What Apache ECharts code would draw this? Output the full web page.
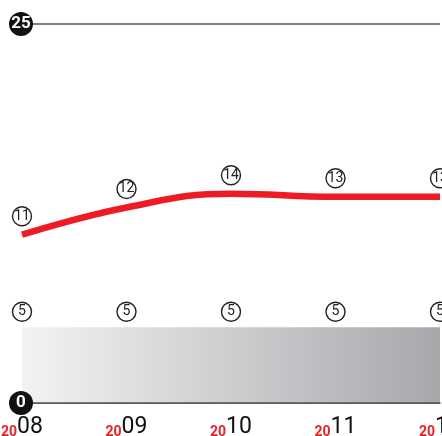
<!DOCTYPE html>
<html><head><meta charset="utf-8">
<script src="https://cdn.jsdelivr.net/npm/echarts@6/dist/echarts.min.js"></script>
<style>html,body{margin:0;padding:0;background:#fff}#c{width:442px;height:436px}</style>
</head><body><div id="c"></div>
<script>
const years = ['2008', '2009', '2010', '2011', '2012'];
// line as drawn in the picture, and the circled values written on it
const lineValues = [11.1, 12.9, 13.8, 13.6, 13.6];
const lineLabels = [11, 12, 14, 13, 13];
const baseValues = [5, 5, 5, 5, 5];
const yTicks = [0, 25];

const fam = 'Roboto, sans-serif';
const circ = {
  c: { width: 17, height: 17, lineHeight: 17, borderRadius: 10, borderWidth: 1.4, borderColor: '#222',
       color: '#222', fontSize: 14, fontFamily: fam, align: 'center', padding: [1, 1, 1, 1] }
};
const hiddenSymbol = { color: 'rgba(0,0,0,0)', borderColor: 'rgba(0,0,0,0)', borderWidth: 0 };
const chart = echarts.init(document.getElementById('c'), null, { renderer: 'canvas' });
chart.setOption({
  animation: false,
  grid: { left: 22, right: 2, top: 24, bottom: 33, containLabel: false, outerBoundsMode: 'none' },
  xAxis: {
    type: 'category', data: years, boundaryGap: false,
    axisLine: { lineStyle: { color: '#444', width: 1.5 } },
    axisTick: { show: false },
    axisLabel: {
      margin: 16, interval: 0, hideOverlap: false,
      formatter: v => '{a|' + v.slice(0, 2) + '}{b|' + v.slice(2) + '}',
      rich: {
        a: { color: '#e8202a', fontSize: 14, fontWeight: 'bold', fontFamily: fam, verticalAlign: 'bottom', lineHeight: 20 },
        b: { color: '#111', fontSize: 23, fontFamily: fam, verticalAlign: 'bottom', lineHeight: 20 }
      }
    }
  },
  yAxis: {
    type: 'value', min: yTicks[0], max: yTicks[1], interval: 25,
    axisLine: { show: false }, axisTick: { show: false },
    splitLine: { lineStyle: { color: '#555', width: 1.5 } },
    axisLabel: {
      margin: 1, align: 'center',
      formatter: v => '{k|' + v + '}',
      rich: { k: { backgroundColor: '#111', color: '#fff', borderRadius: 12, width: 24, height: 24, lineHeight: 24,
                   align: 'center', fontSize: 17, fontWeight: 'bold', fontFamily: fam } }
    },
    z: 10
  },
  series: [
    {
      type: 'line', data: baseValues, symbol: 'circle', symbolSize: 2, showSymbol: true,
      lineStyle: { width: 0 }, itemStyle: hiddenSymbol,
      areaStyle: { opacity: 1, color: new echarts.graphic.LinearGradient(0, 0, 1, 0, [
        { offset: 0, color: '#f2f3f4' }, { offset: 1, color: '#a6a8ab' }]) },
      label: { show: true, position: 'top', distance: 6, formatter: '{c|{c}}', rich: circ },
      labelLayout: { hideOverlap: false },
      z: 1
    },
    {
      type: 'line', data: lineValues, smooth: 0.45, symbol: 'circle', symbolSize: 2, showSymbol: true,
      itemStyle: hiddenSymbol,
      lineStyle: { color: '#ed1c24', width: 6.5 },
      label: { show: true, position: 'top', distance: 9,
               formatter: p => '{c|' + lineLabels[p.dataIndex] + '}', rich: circ },
      labelLayout: { hideOverlap: false },
      z: 3
    }
  ]
});
</script></body></html>
